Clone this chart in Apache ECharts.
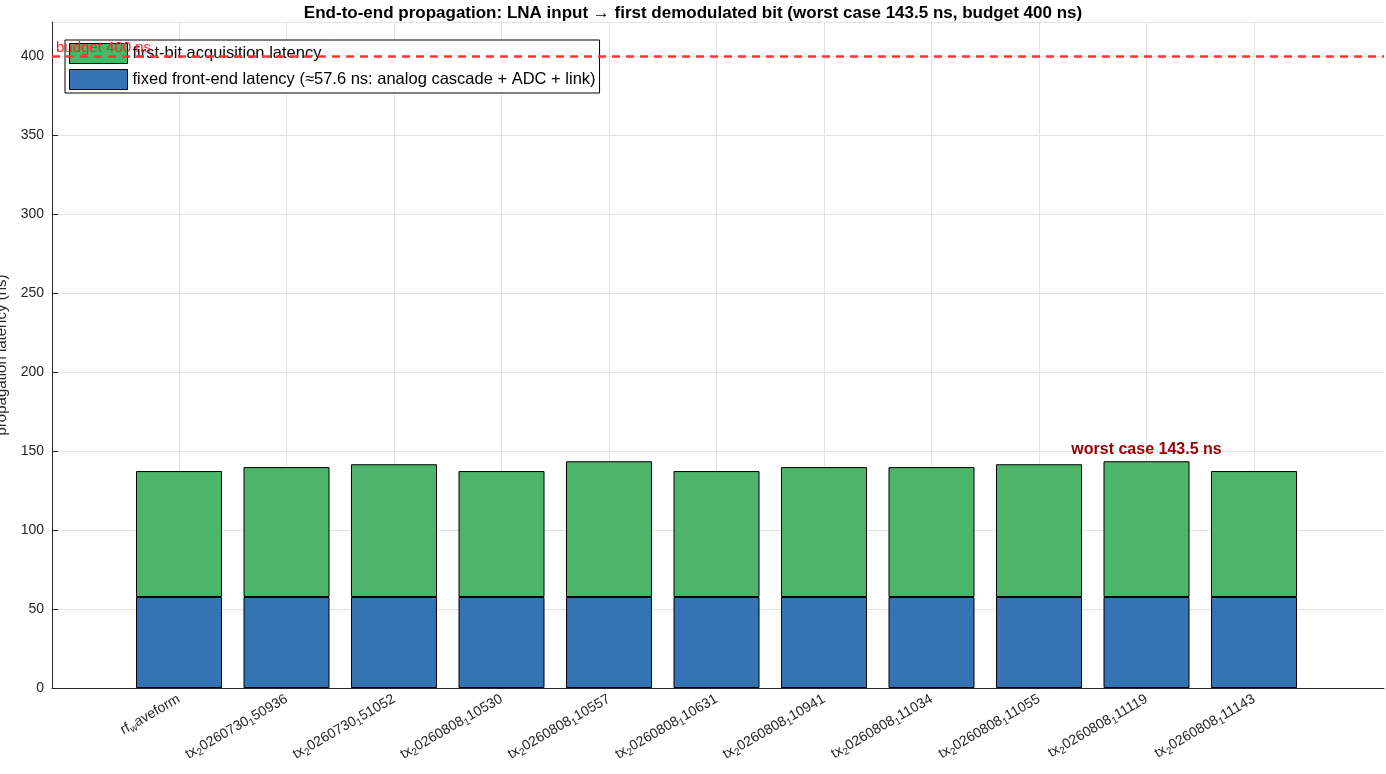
<!DOCTYPE html><html><head><meta charset="utf-8"><script src="https://cdn.jsdelivr.net/npm/echarts@6/dist/echarts.min.js"></script>
<style>html,body{margin:0;background:#fff}#c{width:1386px;height:774px}</style></head><body><div id="c"></div><script>
const categories=['rf_waveform','tx_20260730_150936','tx_20260730_151052','tx_20260808_110530','tx_20260808_110557','tx_20260808_110631','tx_20260808_110941','tx_20260808_111034','tx_20260808_111055','tx_20260808_111119','tx_20260808_111143'];
const fixedLatency=[57.6,57.6,57.6,57.6,57.6,57.6,57.6,57.6,57.6,57.6,57.6];
const totalLatency=[137.3,139.8,141.6,137.3,143.5,137.3,139.8,139.8,141.6,143.5,137.3];
const acqLatency=totalLatency.map((t,i)=>+(t-fixedLatency[i]).toFixed(2));
const budget=400, worstIdx=9, worst=143.5;
const yTicks=[0,50,100,150,200,250,300,350,400];
function fmt(n){
  if(n==='rf_waveform')return 'rf{s|w}aveform';
  const m=n.match(/^tx_2(\d+)_1(\d+)$/);
  return 'tx{s|2}'+m[1]+'{s|1}'+m[2];
}
const F='"Liberation Sans", Arial, sans-serif';
const ch=echarts.init(document.getElementById('c'));
ch.setOption({
 animation:false,
 title:{text:'End-to-end propagation: LNA input \u2192 first demodulated bit (worst case 143.5 ns, budget 400 ns)',left:'center',top:0,textStyle:{fontSize:17,fontWeight:'bold',color:'#000',fontFamily:F}},
 legend:{left:65,top:40,orient:'vertical',icon:'rect',itemWidth:58,itemHeight:20,itemGap:5,backgroundColor:'#fff',borderColor:'#000',borderWidth:1,padding:[3,4,3,4],textStyle:{fontSize:16.5,color:'#000',fontFamily:F},
  itemStyle:{borderColor:'#000',borderWidth:1},
  data:['first-bit acquisition latency','fixed front-end latency (\u224857.6 ns: analog cascade + ADC + link)']},
 grid:[{left:52,right:2,top:22,bottom:86,containLabel:false,outerBoundsMode:'none'},{left:179,right:132,top:22,bottom:86,containLabel:false,outerBoundsMode:'none'}],
 xAxis:[
  {gridIndex:0,type:'value',min:0,max:1,axisLine:{show:true,onZero:false,lineStyle:{color:'#262626'}},axisTick:{show:false},axisLabel:{show:false},splitLine:{show:false}},
  {gridIndex:1,type:'category',boundaryGap:false,data:categories,axisLine:{show:false},axisTick:{show:false},
   splitLine:{show:true,lineStyle:{color:'#e3e3e3'}},
   axisLabel:{rotate:30,interval:0,margin:10,fontSize:14,color:'#262626',fontFamily:F,formatter:v=>fmt(v),
    rich:{s:{fontSize:10,verticalAlign:'bottom',padding:[8,0,0,0],color:'#262626',fontFamily:F}}}}
 ],
 yAxis:[
  {gridIndex:0,type:'value',min:0,max:421.5,interval:50,name:'propagation latency (ns)',nameLocation:'middle',nameGap:38,nameTextStyle:{fontSize:15,color:'#262626',fontFamily:F},
   axisLine:{show:true,lineStyle:{color:'#262626'}},axisTick:{show:true,inside:true,length:6,lineStyle:{color:'#262626'}},
   axisLabel:{fontSize:14,color:'#262626',fontFamily:F,showMaxLabel:false,formatter:v=>yTicks.includes(v)?String(v):''},splitLine:{lineStyle:{color:'#e3e3e3'}}},
  {gridIndex:1,type:'value',min:0,max:421.5,show:false}
 ],
 series:[
  {name:'fixed front-end latency (\u224857.6 ns: analog cascade + ADC + link)',type:'bar',stack:'a',xAxisIndex:1,yAxisIndex:1,barWidth:86,clip:false,data:fixedLatency,itemStyle:{color:'#3473B4',borderColor:'#000',borderWidth:1}},
  {name:'first-bit acquisition latency',type:'bar',stack:'a',xAxisIndex:1,yAxisIndex:1,barWidth:86,clip:false,data:acqLatency.map((v,i)=>i===worstIdx?{value:v,label:{show:true,position:'top',distance:4,formatter:'worst case '+worst+' ns',color:'#990000',fontWeight:'bold',fontSize:16,fontFamily:F}}:v),itemStyle:{color:'#4DB56A',borderColor:'#000',borderWidth:1}},
  {type:'line',xAxisIndex:0,yAxisIndex:0,data:[],silent:true,
   markLine:{symbol:'none',silent:true,lineStyle:{color:'#FF3333',type:[8,6],width:2.5},
    label:{show:true,position:'insideStartTop',formatter:'budget 400 ns',color:'#FF2222',fontSize:15,fontFamily:F,distance:[4,1]},data:[{yAxis:budget}]},
   z:1}
 ]
});
</script></body></html>
